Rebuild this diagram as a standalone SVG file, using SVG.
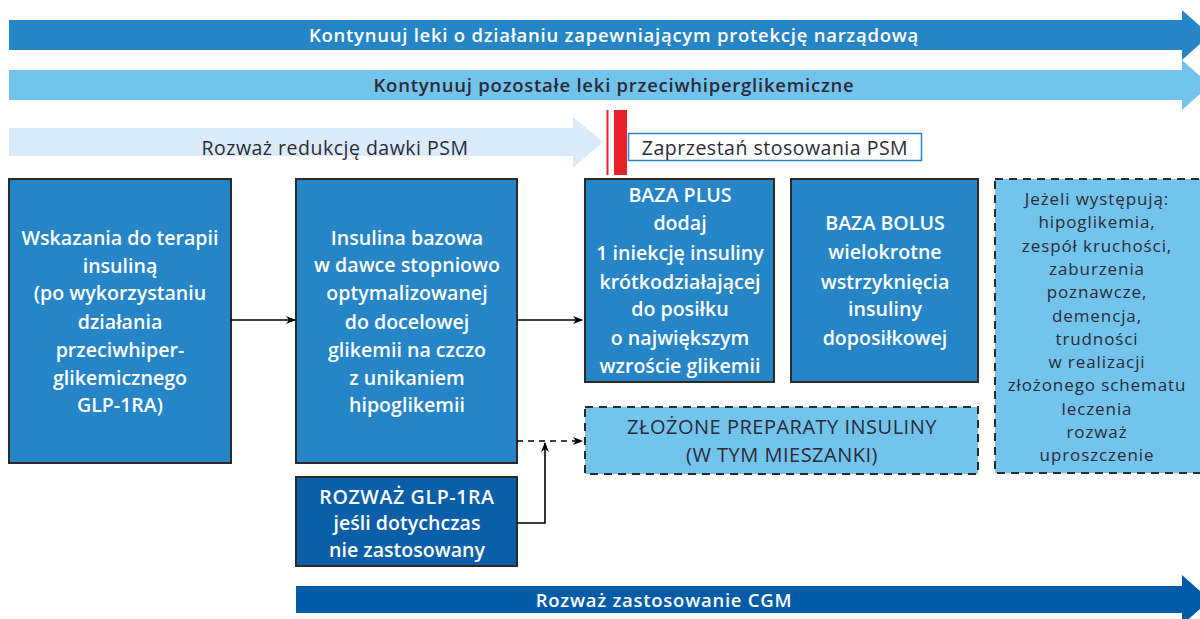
<svg xmlns="http://www.w3.org/2000/svg" width="1200" height="619" viewBox="0 0 1200 619">
<style>
.t{font-family:"Open Sans","Noto Sans","Liberation Sans",sans-serif;text-anchor:middle}
.w{fill:#ffffff;font-size:19.6px;font-weight:600}
.d{fill:#2b2b38;font-size:20px;letter-spacing:0.5px}
.s{fill:#2b2b38;font-size:17px;letter-spacing:0.9px}
.ab{font-size:18.5px;font-weight:600;letter-spacing:0.75px}
.ar{font-size:19.5px;letter-spacing:0.5px}
.box{stroke:#2a2a2a;stroke-width:2}
.mid{fill:#2585c7}
.dash{fill:#72c4ec;stroke:#2a2a2a;stroke-width:2;stroke-dasharray:8 6}
.con{fill:none;stroke:#000;stroke-width:1.6}
</style>
<defs>
<marker id="ah" viewBox="0 0 10 10" refX="9" refY="5" markerWidth="10" markerHeight="10" markerUnits="userSpaceOnUse" orient="auto">
<path d="M0,1 L10,5 L0,9 L3,5 Z" fill="#000"/>
</marker>
</defs>
<rect width="1200" height="619" fill="#ffffff"/>

<g id="arrow-protekcja">
<polygon points="9,20 1182,20 1182,10 1210,35 1182,60 1182,50 9,50" fill="#2585c7"/>
<text class="t ab" x="614" y="42" fill="#ffffff">Kontynuuj leki o działaniu zapewniającym protekcję narządową</text>
</g>
<g id="arrow-pozostale">
<polygon points="9,70 1182,70 1182,60 1210,85 1182,110 1182,100 9,100" fill="#72c4ec"/>
<text class="t ab" x="614" y="92" fill="#2b2b38">Kontynuuj pozostałe leki przeciwhiperglikemiczne</text>
</g>
<g id="arrow-psm">
<polygon points="9,128 573,128 573,117 603,142 573,168 573,156 9,156" fill="#dcebf8"/>
<text class="t ar" x="335" y="155" fill="#2b2b38">Rozważ redukcję dawki PSM</text>
</g>
<g id="stop-bar">
<rect x="606.5" y="110" width="2" height="65" fill="#e8202a"/>
<rect x="614" y="110" width="13" height="65" fill="#e8202a"/>
</g>
<g id="zaprzestan">
<rect x="628.5" y="133.5" width="293" height="27" fill="#ffffff" stroke="#2585c7" stroke-width="1.5"/>
<text class="t ar" x="775" y="155" fill="#2b2b38">Zaprzestań stosowania PSM</text>
</g>

<g id="wskazania">
<rect class="box mid" x="9" y="179" width="222" height="284"/>
<text class="t w" x="120"><tspan x="120" y="245">Wskazania do terapii</tspan><tspan x="120" y="273">insuliną</tspan><tspan x="120" y="300">(po wykorzystaniu</tspan><tspan x="120" y="329">działania</tspan><tspan x="120" y="357">przeciwhiper-</tspan><tspan x="120" y="385">glikemicznego</tspan><tspan x="120" y="412">GLP-1RA)</tspan></text>
</g>
<g id="insulina-bazowa">
<rect class="box mid" x="296" y="179" width="221" height="284"/>
<text class="t w" x="407"><tspan x="407" y="245">Insulina bazowa</tspan><tspan x="407" y="272">w dawce stopniowo</tspan><tspan x="407" y="300">optymalizowanej</tspan><tspan x="407" y="329">do docelowej</tspan><tspan x="407" y="357">glikemii na czczo</tspan><tspan x="407" y="385">z unikaniem</tspan><tspan x="407" y="412">hipoglikemii</tspan></text>
</g>
<g id="baza-plus">
<rect class="box mid" x="585" y="179" width="189" height="203"/>
<text class="t w" x="680"><tspan x="680" y="202">BAZA PLUS</tspan><tspan x="680" y="230">dodaj</tspan><tspan x="680" y="260">1 iniekcję insuliny</tspan><tspan x="680" y="289">krótkodziałającej</tspan><tspan x="680" y="316">do posiłku</tspan><tspan x="680" y="345">o największym</tspan><tspan x="680" y="373">wzroście glikemii</tspan></text>
</g>
<g id="baza-bolus">
<rect class="box mid" x="791" y="179" width="187" height="203"/>
<text class="t w" x="885"><tspan x="885" y="230">BAZA BOLUS</tspan><tspan x="885" y="259">wielokrotne</tspan><tspan x="885" y="289">wstrzyknięcia</tspan><tspan x="885" y="316">insuliny</tspan><tspan x="885" y="345">doposiłkowej</tspan></text>
</g>
<g id="zlozone">
<rect class="dash" x="585" y="407" width="393" height="67"/>
<text class="t d" x="782"><tspan x="782" y="434">ZŁOŻONE PREPARATY INSULINY</tspan><tspan x="782" y="462">(W TYM MIESZANKI)</tspan></text>
</g>
<g id="jezeli">
<rect class="dash" x="995" y="179" width="215" height="294"/>
<text class="t s" x="1097"><tspan x="1097" y="205">Jeżeli występują:</tspan><tspan x="1097" y="228.3">hipoglikemia,</tspan><tspan x="1097" y="251.6">zespół kruchości,</tspan><tspan x="1097" y="274.9">zaburzenia</tspan><tspan x="1097" y="298.2">poznawcze,</tspan><tspan x="1097" y="321.5">demencja,</tspan><tspan x="1097" y="344.8">trudności</tspan><tspan x="1097" y="368.1">w realizacji</tspan><tspan x="1097" y="391.4">złożonego schematu</tspan><tspan x="1097" y="414.7">leczenia</tspan><tspan x="1097" y="438">rozważ</tspan><tspan x="1097" y="461.3">uproszczenie</tspan></text>
</g>
<g id="rozwaz-glp">
<rect class="box" x="296" y="477" width="221" height="89" fill="#0b5ea8"/>
<text class="t w" x="407"><tspan x="407" y="504" letter-spacing="0.6">ROZWAŻ GLP-1RA</tspan><tspan x="407" y="530">jeśli dotychczas</tspan><tspan x="407" y="557">nie zastosowany</tspan></text>
</g>
<g id="arrow-cgm">
<polygon points="296,586 1182,586 1182,575 1210,600 1182,625 1182,613 296,613" fill="#005ca6"/>
<text class="t ab" x="664" y="607" fill="#ffffff" letter-spacing="0.6">Rozważ zastosowanie CGM</text>
</g>

<g id="connectors">
<line class="con" x1="231" y1="320" x2="295" y2="320" marker-end="url(#ah)"/>
<line class="con" x1="517" y1="320" x2="582" y2="320" marker-end="url(#ah)"/>
<line class="con" x1="517" y1="441" x2="582" y2="441" stroke-dasharray="6 5" marker-end="url(#ah)"/>
<polyline class="con" points="517,523 545,523 545,443" marker-end="url(#ah)"/>
</g>
</svg>
